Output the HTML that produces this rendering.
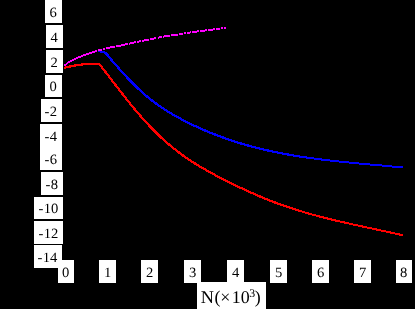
<!DOCTYPE html>
<html><head><meta charset="utf-8"><style>
html,body{margin:0;padding:0;background:#000;}
body{width:415px;height:309px;position:relative;overflow:hidden;font-family:"Liberation Serif",serif;}
.t{position:absolute;background:#fff;color:#000;font-size:14.2px;text-rendering:geometricPrecision;text-align:center;white-space:nowrap;filter:grayscale(1);}
.xl{font-size:17.9px;}
.h{margin-right:0.4px;}
.s{display:inline-block;transform:translateX(-0.3px) scaleX(1.03);}
.sx{transform:translateX(0.2px) scaleX(1.03);}
.sup{font-size:11.8px;position:relative;top:-5.8px;margin-right:-0.55px;}
.g{position:relative;left:-0.95px;}
.n{display:inline-block;transform:scaleX(1.02);transform-origin:100% 50%;}
.d{position:relative;left:0.4px;}
svg{position:absolute;left:0;top:0;}
</style></head><body>
<svg width="415" height="309" viewBox="0 0 415 309" shape-rendering="crispEdges">
<path d="M64.2,67.9L65.2,67.6L66.2,67.4L67.2,67.2L68.2,66.9L69.2,66.7L70.2,66.5L71.2,66.3L72.2,66.1L73.2,65.9L74.2,65.7L75.2,65.5L76.2,65.4L77.2,65.2L78.2,65.1L79.2,64.9L80.2,64.8L81.2,64.6L82.2,64.4L83.2,64.3L84.2,64.1L85.2,64.0L86.2,64.0L87.2,64.0L88.2,64.0L89.2,64.0L90.2,64.0L91.2,64.0L92.2,64.0L93.2,64.0L94.2,64.0L95.2,64.0L96.2,64.0L97.2,64.0L98.2,64.0L98.9,64.0L99.9,64.8L100.9,66.1L101.9,67.3L102.9,68.6L103.9,69.9L104.9,71.2L105.9,72.5L106.9,73.7L107.9,75.0L108.9,76.3L109.9,77.6L110.9,79.0L111.9,80.3L112.9,81.6L113.9,82.9L114.9,84.2L115.9,85.5L116.9,86.8L117.9,88.1L118.9,89.4L119.9,90.7L120.9,92.0L121.9,93.3L122.9,94.5L123.9,95.8L124.9,97.1L125.9,98.3L126.9,99.6L127.9,100.8L128.9,102.1L129.9,103.3L130.9,104.6L131.9,105.8L132.9,107.0L133.9,108.2L134.9,109.4L135.9,110.6L136.9,111.8L137.9,113.0L138.9,114.1L139.9,115.3L140.9,116.4L141.9,117.6L142.9,118.7L143.9,119.8L144.9,120.9L145.9,122.0L146.9,123.1L147.9,124.2L148.9,125.3L149.9,126.4L150.9,127.4L151.9,128.5L152.9,129.5L153.9,130.5L154.9,131.5L155.9,132.5L156.9,133.5L157.9,134.5L158.9,135.4L159.9,136.4L160.9,137.3L161.9,138.3L162.9,139.2L163.9,140.1L164.9,141.0L165.9,141.9L166.9,142.7L167.9,143.6L168.9,144.4L169.9,145.3L170.9,146.1L171.9,146.9L172.9,147.7L173.9,148.6L174.9,149.3L175.9,150.1L176.9,150.9L177.9,151.7L178.9,152.4L179.9,153.2L180.9,153.9L181.9,154.6L182.9,155.4L183.9,156.1L184.9,156.8L185.9,157.5L186.9,158.2L187.9,158.8L188.9,159.5L189.9,160.2L190.9,160.9L191.9,161.5L192.9,162.2L193.9,162.8L194.9,163.4L195.9,164.1L196.9,164.7L197.9,165.3L198.9,165.9L199.9,166.5L200.9,167.1L201.9,167.7L202.9,168.3L203.9,168.9L204.9,169.4L205.9,170.0L206.9,170.6L207.9,171.1L208.9,171.7L209.9,172.2L210.9,172.8L211.9,173.3L212.9,173.9L213.9,174.4L214.9,175.0L215.9,175.5L216.9,176.0L217.9,176.5L218.9,177.1L219.9,177.6L220.9,178.1L221.9,178.6L222.9,179.1L223.9,179.6L224.9,180.1L225.9,180.6L226.9,181.1L227.9,181.6L228.9,182.1L229.9,182.6L230.9,183.1L231.9,183.6L232.9,184.1L233.9,184.6L234.9,185.1L235.9,185.6L236.9,186.1L237.9,186.5L238.9,187.0L239.9,187.5L240.9,188.0L241.9,188.4L242.9,188.9L243.9,189.4L244.9,189.8L245.9,190.3L246.9,190.8L247.9,191.2L248.9,191.7L249.9,192.1L250.9,192.6L251.9,193.0L252.9,193.4L253.9,193.9L254.9,194.3L255.9,194.8L256.9,195.2L257.9,195.6L258.9,196.1L259.9,196.5L260.9,196.9L261.9,197.3L262.9,197.7L263.9,198.1L264.9,198.6L265.9,199.0L266.9,199.4L267.9,199.8L268.9,200.2L269.9,200.6L270.9,200.9L271.9,201.3L272.9,201.7L273.9,202.1L274.9,202.5L275.9,202.8L276.9,203.2L277.9,203.6L278.9,204.0L279.9,204.3L280.9,204.7L281.9,205.0L282.9,205.4L283.9,205.7L284.9,206.1L285.9,206.4L286.9,206.8L287.9,207.1L288.9,207.4L289.9,207.8L290.9,208.1L291.9,208.4L292.9,208.7L293.9,209.1L294.9,209.4L295.9,209.7L296.9,210.0L297.9,210.3L298.9,210.6L299.9,210.9" fill="none" stroke="#f00" stroke-width="2.3" stroke-linejoin="round"/>
<path d="M299.9,210.9L300.9,211.2L301.9,211.5L302.9,211.8L303.9,212.1L304.9,212.4L305.9,212.7L306.9,213.0L307.9,213.3L308.9,213.6L309.9,213.9L310.9,214.1L311.9,214.4L312.9,214.7L313.9,215.0L314.9,215.2L315.9,215.5L316.9,215.8L317.9,216.0L318.9,216.3L319.9,216.6L320.9,216.8L321.9,217.1L322.9,217.4L323.9,217.6L324.9,217.9L325.9,218.1L326.9,218.4L327.9,218.6L328.9,218.9L329.9,219.1L330.9,219.4L331.9,219.6L332.9,219.8L333.9,220.1L334.9,220.3L335.9,220.6L336.9,220.8L337.9,221.0L338.9,221.3L339.9,221.5L340.9,221.7L341.9,222.0L342.9,222.2L343.9,222.4L344.9,222.6L345.9,222.9L346.9,223.1L347.9,223.3L348.9,223.5L349.9,223.8L350.9,224.0L351.9,224.2L352.9,224.4L353.9,224.7L354.9,224.9L355.9,225.1L356.9,225.3L357.9,225.5L358.9,225.7L359.9,226.0L360.9,226.2L361.9,226.4L362.9,226.6L363.9,226.8L364.9,227.0L365.9,227.3L366.9,227.5L367.9,227.7L368.9,227.9L369.9,228.1L370.9,228.3L371.9,228.5L372.9,228.7L373.9,229.0L374.9,229.2L375.9,229.4L376.9,229.6L377.9,229.8L378.9,230.0L379.9,230.2L380.9,230.5L381.9,230.7L382.9,230.9L383.9,231.1L384.9,231.3L385.9,231.5L386.9,231.7L387.9,232.0L388.9,232.2L389.9,232.4L390.9,232.6L391.9,232.8L392.9,233.1L393.9,233.3L394.9,233.5L395.9,233.7L396.9,233.9L397.9,234.2L398.9,234.4L399.9,234.6L400.9,234.8L401.9,235.1L402.6,235.2" fill="none" stroke="#f00" stroke-width="2"/>
<path d="M97.9,51.1L98.4,51.1L98.9,51.1L99.4,51.2L99.9,51.3L100.4,51.4L100.9,51.5L101.4,51.6L101.9,51.7L102.4,51.8L102.9,52.0L103.4,52.1L103.9,52.3L104.4,52.6L104.9,52.8L105.4,53.1L105.9,53.4L106.4,53.8L106.9,54.3L107.4,54.9L107.9,55.6L108.4,56.3L108.9,56.9L109.4,57.6L109.9,58.3L110.9,59.2L111.9,60.4L112.9,61.6L113.9,62.7L114.9,63.9L115.9,65.1L116.9,66.2L117.9,67.3L118.9,68.5L119.9,69.6L120.9,70.7L121.9,71.8L122.9,72.9L123.9,74.0L124.9,75.1L125.9,76.2L126.9,77.3L127.9,78.3L128.9,79.4L129.9,80.4L130.9,81.4L131.9,82.5L132.9,83.5L133.9,84.5L134.9,85.4L135.9,86.4L136.9,87.4L137.9,88.3L138.9,89.3L139.9,90.2L140.9,91.1L141.9,92.0L142.9,92.9L143.9,93.8L144.9,94.7L145.9,95.5L146.9,96.4L147.9,97.2L148.9,98.0L149.9,98.8L150.9,99.6L151.9,100.4L152.9,101.2L153.9,101.9L154.9,102.7L155.9,103.4L156.9,104.1L157.9,104.9L158.9,105.6L159.9,106.3L160.9,106.9L161.9,107.6L162.9,108.3L163.9,109.0L164.9,109.6L165.9,110.2L166.9,110.9L167.9,111.5L168.9,112.1L169.9,112.7L170.9,113.3L171.9,113.9L172.9,114.5L173.9,115.1L174.9,115.7L175.9,116.2L176.9,116.8L177.9,117.3L178.9,117.9L179.9,118.4L180.9,119.0L181.9,119.5L182.9,120.0L183.9,120.5L184.9,121.1L185.9,121.6L186.9,122.1L187.9,122.6L188.9,123.1L189.9,123.6L190.9,124.1L191.9,124.5L192.9,125.0L193.9,125.5L194.9,126.0L195.9,126.4L196.9,126.9L197.9,127.4L198.9,127.8L199.9,128.3L200.9,128.7L201.9,129.2L202.9,129.6L203.9,130.0L204.9,130.5L205.9,130.9L206.9,131.3L207.9,131.7L208.9,132.1L209.9,132.5L210.9,133.0L211.9,133.4L212.9,133.8L213.9,134.2L214.9,134.5L215.9,134.9L216.9,135.3L217.9,135.7L218.9,136.1L219.9,136.4L220.9,136.8L221.9,137.2L222.9,137.5L223.9,137.9L224.9,138.3L225.9,138.6L226.9,139.0L227.9,139.3L228.9,139.6L229.9,140.0L230.9,140.3L231.9,140.6L232.9,141.0L233.9,141.3L234.9,141.6L235.9,141.9L236.9,142.2L237.9,142.6L238.9,142.9L239.9,143.2L240.9,143.5L241.9,143.8L242.9,144.1L243.9,144.4L244.9,144.7L245.9,144.9L246.9,145.2L247.9,145.5L248.9,145.8L249.9,146.1L250.9,146.3L251.9,146.6L252.9,146.9L253.9,147.1L254.9,147.4L255.9,147.6L256.9,147.9L257.9,148.1L258.9,148.4L259.9,148.6L260.9,148.9L261.9,149.1L262.9,149.4L263.9,149.6L264.9,149.8L265.9,150.1L266.9,150.3L267.9,150.5L268.9,150.7L269.9,151.0L270.9,151.2L271.9,151.4L272.9,151.6L273.9,151.8L274.9,152.0L275.9,152.2L276.9,152.4L277.9,152.6L278.9,152.8L279.9,153.0L280.9,153.2L281.9,153.4L282.9,153.6L283.9,153.8L284.9,154.0L285.9,154.2L286.9,154.3L287.9,154.5L288.9,154.7L289.9,154.9L290.9,155.0L291.9,155.2L292.9,155.4L293.9,155.6L294.9,155.7L295.9,155.9L296.9,156.0L297.9,156.2L298.9,156.4L299.9,156.5" fill="none" stroke="#00f" stroke-width="2.3" stroke-linejoin="round"/>
<path d="M299.9,156.5L300.9,156.7L301.9,156.8L302.9,157.0L303.9,157.1L304.9,157.3L305.9,157.4L306.9,157.6L307.9,157.7L308.9,157.9L309.9,158.0L310.9,158.1L311.9,158.3L312.9,158.4L313.9,158.5L314.9,158.7L315.9,158.8L316.9,158.9L317.9,159.1L318.9,159.2L319.9,159.3L320.9,159.4L321.9,159.6L322.9,159.7L323.9,159.8L324.9,159.9L325.9,160.0L326.9,160.2L327.9,160.3L328.9,160.4L329.9,160.5L330.9,160.6L331.9,160.7L332.9,160.8L333.9,161.0L334.9,161.1L335.9,161.2L336.9,161.3L337.9,161.4L338.9,161.5L339.9,161.6L340.9,161.7L341.9,161.8L342.9,161.9L343.9,162.0L344.9,162.1L345.9,162.2L346.9,162.3L347.9,162.4L348.9,162.5L349.9,162.6L350.9,162.7L351.9,162.8L352.9,162.9L353.9,163.0L354.9,163.1L355.9,163.2L356.9,163.3L357.9,163.4L358.9,163.5L359.9,163.5L360.9,163.6L361.9,163.7L362.9,163.8L363.9,163.9L364.9,164.0L365.9,164.1L366.9,164.2L367.9,164.3L368.9,164.4L369.9,164.5L370.9,164.5L371.9,164.6L372.9,164.7L373.9,164.8L374.9,164.9L375.9,165.0L376.9,165.1L377.9,165.2L378.9,165.3L379.9,165.4L380.9,165.4L381.9,165.5L382.9,165.6L383.9,165.7L384.9,165.8L385.9,165.9L386.9,166.0L387.9,166.1L388.9,166.2L389.9,166.3L390.9,166.4L391.9,166.5L392.9,166.5L393.9,166.6L394.9,166.7L395.9,166.8L396.9,166.9L397.9,167.0L398.9,167.1L399.9,167.2L400.9,167.3L401.9,167.4L402.6,167.5" fill="none" stroke="#00f" stroke-width="2"/>
<path d="M221,27h2v2h-2zM224,27h2v2h-2zM213,28h2v2h-2zM216,28h4v2h-4zM205,29h2v2h-2zM208,29h5v2h-5zM197,30h2v2h-2zM200,30h5v2h-5zM190,31h1v2h-1zM192,31h5v2h-5zM184,32h2v2h-2zM187,32h3v2h-3zM179,33h4v2h-4zM171,34h7v2h-7zM164,35h6v2h-6zM159,36h3v2h-3zM163,36h1v2h-1zM154,37h2v2h-2zM158,37h1v2h-1zM150,38h4v2h-4zM144,39h5v2h-5zM139,40h2v2h-2zM142,40h2v2h-2zM134,41h2v2h-2zM137,41h2v2h-2zM130,42h4v2h-4zM125,43h3v2h-3zM129,43h1v2h-1zM121,44h4v2h-4zM116,45h5v2h-5zM110,46h5v2h-5zM106,47h4v2h-4zM103,48h2v2h-2zM98,49h4v2h-4zM95,50h2v2h-2zM92,51h3v2h-3zM89,52h3v2h-3zM86,53h3v2h-3zM83,54h3v2h-3zM81,55h2v2h-2zM78,56h3v2h-3zM76,57h2v2h-2zM74,58h2v2h-2zM72,59h2v2h-2zM70,60h2v2h-2zM68,61h2v2h-2zM67,62h1v2h-1zM66,63h1v2h-1zM64,64h2v2h-2z" fill="#f0f"/>
</svg>
<div class="t" style="left:45px;top:0px;width:17px;height:23px;line-height:26.4px"><span class="s">6</span></div>
<div class="t" style="left:46px;top:25px;width:17px;height:23px;line-height:26.4px"><span class="s">4</span></div>
<div class="t" style="left:46px;top:50px;width:17px;height:23px;line-height:26.4px"><span class="s">2</span></div>
<div class="t" style="left:45px;top:75px;width:17px;height:22px;line-height:25.4px"><span class="s">0</span></div>
<div class="t" style="left:41px;top:99px;width:21px;height:23px;line-height:26.4px"><span class="s"><span class="h">-</span>2</span></div>
<div class="t" style="left:40px;top:124px;width:22px;height:24px;line-height:27.4px"><span class="s"><span class="h">-</span>4</span></div>
<div class="t" style="left:40px;top:147px;width:22px;height:23px;line-height:26.4px"><span class="s"><span class="h">-</span>6</span></div>
<div class="t" style="left:41px;top:172px;width:22px;height:23px;line-height:26.4px"><span class="s"><span class="h">-</span>8</span></div>
<div class="t" style="left:34px;top:197px;width:29px;height:22px;line-height:25.4px"><span class="s"><span class="h">-</span>10</span></div>
<div class="t" style="left:34px;top:221px;width:29px;height:23px;line-height:26.4px"><span class="s"><span class="h">-</span>12</span></div>
<div class="t" style="left:34px;top:245px;width:28px;height:23px;line-height:26.4px"><span class="s"><span class="h">-</span>14</span></div>
<div class="t" style="left:58px;top:260px;width:16px;height:23px;line-height:26.4px"><span class="s sx">0</span></div>
<div class="t" style="left:99px;top:260px;width:17px;height:23px;line-height:26.4px"><span class="s sx">1</span></div>
<div class="t" style="left:141px;top:260px;width:17px;height:23px;line-height:26.4px"><span class="s sx">2</span></div>
<div class="t" style="left:184px;top:260px;width:17px;height:23px;line-height:26.4px"><span class="s sx">3</span></div>
<div class="t" style="left:227px;top:260px;width:17px;height:23px;line-height:26.4px"><span class="s sx">4</span></div>
<div class="t" style="left:270px;top:260px;width:17px;height:23px;line-height:26.4px"><span class="s sx">5</span></div>
<div class="t" style="left:312px;top:260px;width:17px;height:23px;line-height:26.4px"><span class="s sx">6</span></div>
<div class="t" style="left:354px;top:260px;width:17px;height:23px;line-height:26.4px"><span class="s sx">7</span></div>
<div class="t" style="left:396px;top:260px;width:16px;height:23px;line-height:26.4px"><span class="s sx">8</span></div>
<div class="t xl" style="left:197px;top:282px;width:69px;height:27px;line-height:30px"><span class="g"><span class="n">N</span>(&times;</span><span class="d">10</span><span class="sup">3</span>)</div>
</body></html>
